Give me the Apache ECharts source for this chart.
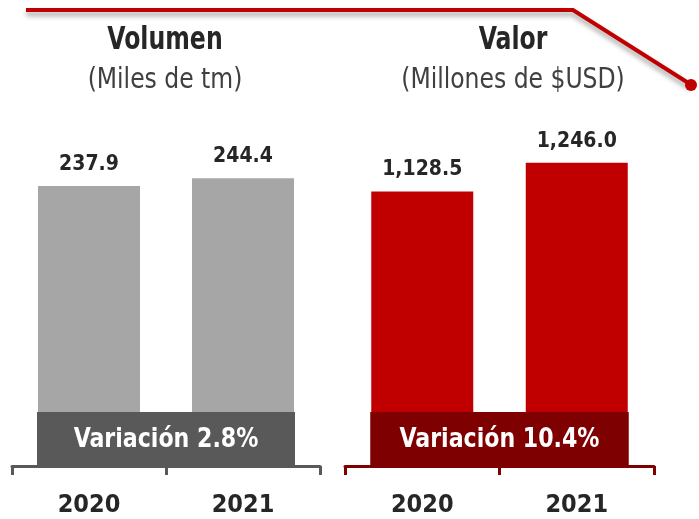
<!DOCTYPE html>
<html>
<head>
<meta charset="utf-8">
<script src="https://cdn.jsdelivr.net/npm/echarts@6/dist/echarts.min.js"></script>
<style>
  html, body { margin: 0; padding: 0; background: #fff; }
  #chart { width: 699px; height: 519px; }
</style>
</head>
<body>
<div id="chart"></div>
<script>
  var years = ['2020', '2021']
  var volumen = [237.9, 244.4]
  var valor = [1128.5, 1246.0]
  var variaciones = ['Variación 2.8%', 'Variación 10.4%']
  var titulos = ['Volumen', 'Valor']
  var subtitulos = ['(Miles de tm)', '(Millones de $USD)']

  var FONT = "'Liberation Sans Narrow', 'DejaVu Sans Condensed', 'Roboto', sans-serif"
  var BAR_W = 102

  function fmt(v) {
    return v.toLocaleString('en-US', {minimumFractionDigits: 1, maximumFractionDigits: 1})
  }

  function xAxisOf(idx, color) {
    return {
      type: 'category',
      gridIndex: idx,
      data: years,
      offset: 4,
      axisLine: {lineStyle: {color: color, width: 3}},
      axisTick: {show: true, length: 9, lineStyle: {color: color, width: 3}},
      axisLabel: {
        margin: 23,
        color: '#262626',
        fontFamily: FONT,
        fontWeight: 'bold',
        fontSize: 25
      }
    }
  }

  function barSeries(idx, values, color) {
    return {
      type: 'bar',
      xAxisIndex: idx,
      yAxisIndex: idx,
      barWidth: BAR_W,
      data: values,
      itemStyle: {color: color},
      label: {
        show: true,
        position: 'top',
        distance: 11,
        formatter: function (p) { return fmt(p.value) },
        color: '#262626',
        fontFamily: FONT,
        fontWeight: 'bold',
        fontSize: 21
      }
    }
  }

  var chart = echarts.init(document.getElementById('chart'))

  // titulos con letra estrecha (escala horizontal)
  var titleText = []
  var centers = [165, 513]
  for (var i = 0; i < 2; i++) {
    titleText.push({
      type: 'text', x: centers[i], y: 41, scaleX: 0.82,
      style: {text: titulos[i], fill: '#262626', font: 'bold 32px ' + FONT, align: 'center', verticalAlign: 'middle'}
    })
    titleText.push({
      type: 'text', x: centers[i], y: 80, scaleX: 0.9,
      style: {text: subtitulos[i], fill: '#404040', font: '29px ' + FONT, align: 'center', verticalAlign: 'middle'}
    })
  }

  chart.setOption({
    animation: false,
    grid: [
      {left: 12, width: 308, top: 101, bottom: 53},
      {left: 345, width: 309, top: 101, bottom: 53}
    ],
    xAxis: [xAxisOf(0, '#595959'), xAxisOf(1, '#7f0000')],
    yAxis: [
      {type: 'value', gridIndex: 0, min: 0, max: 310, show: false},
      {type: 'value', gridIndex: 1, min: 0, max: 1500, show: false}
    ],
    series: [
      barSeries(0, volumen, '#a6a6a6'),
      barSeries(1, valor, '#c00000')
    ]
  })

  // cajas de variacion, ancho segun las barras
  var boxColors = ['#595959', '#7f0000']
  var boxes = []
  for (var g = 0; g < 2; g++) {
    var x0 = chart.convertToPixel({xAxisIndex: g}, years[0]) - BAR_W / 2 - 1
    var x1 = chart.convertToPixel({xAxisIndex: g}, years[1]) + BAR_W / 2 + 1
    boxes.push({
      type: 'rect', z: 10,
      shape: {x: x0, y: 412, width: x1 - x0, height: 54},
      style: {fill: boxColors[g]}
    })
    boxes.push({
      type: 'text', z: 11, x: (x0 + x1) / 2, y: 440, scaleX: 0.91,
      style: {text: variaciones[g], fill: '#fff', font: 'bold 27px ' + FONT, align: 'center', verticalAlign: 'middle'}
    })
  }

  chart.setOption({
    graphic: [
      {
        type: 'polyline', z: 5,
        shape: {points: [[26, 10], [573, 10], [690, 84]]},
        style: {stroke: '#c00000', lineWidth: 4, fill: null, shadowColor: 'rgba(0,0,0,0.35)', shadowBlur: 5, shadowOffsetY: 4}
      },
      {type: 'circle', z: 6, shape: {cx: 691, cy: 85, r: 6}, style: {fill: '#c00000'}}
    ].concat(titleText, boxes)
  })
</script>
</body>
</html>
